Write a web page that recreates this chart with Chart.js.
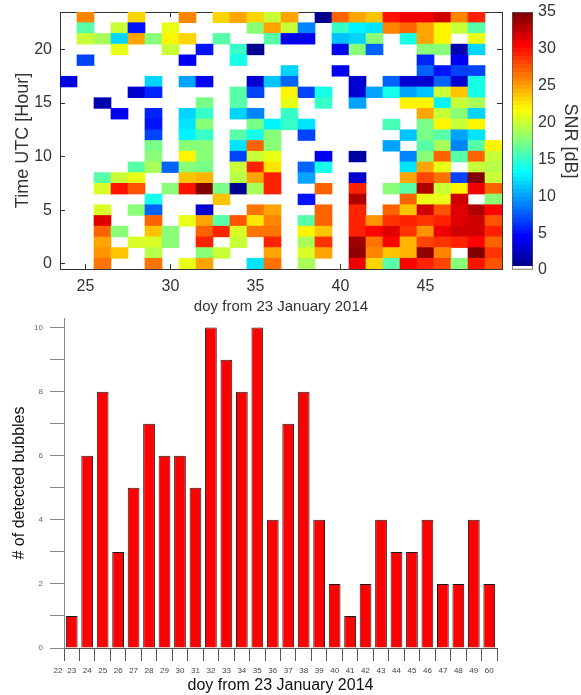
<!DOCTYPE html>
<html>
<head>
<meta charset="utf-8">
<script src="https://cdn.jsdelivr.net/npm/chart.js@4.4.0/dist/chart.umd.min.js"></script>
<style>
  body { margin: 0; background: #fff; }
  #wrap { position: relative; width: 581px; height: 695px; }
  .box { position: absolute; }
</style>
</head>
<body>
<div id="wrap">
  <div class="box" style="left:0;top:0;width:505px;height:316px"><canvas id="heat"></canvas></div>
  <div class="box" style="left:505px;top:0;width:76px;height:316px"><canvas id="cbar"></canvas></div>
  <div class="box" style="left:0;top:310px;width:581px;height:385px"><canvas id="bars"></canvas></div>
</div>
<script>
// top panel: SNR per day / hour
const _ = null;
const days = [24,25,26,27,28,29,30,31,32,33,34,35,36,37,38,39,40,41,42,43,44,45,46,47,48,49];
const dayTicks = [25, 30, 35, 40, 45];
const hourTicks = [0, 5, 10, 15, 20];
const snrTicks = [0, 5, 10, 15, 20, 25, 30, 35];
// one row per hour, from hour 23 down to hour 0, one value per day 24..49
const snrRows = [
  [_,26,_,_,23,_,_,26,_,23,25,23,20,25,_,1,27,25,24,30,31,31,32,26,29,_],
  [_,16,_,20,5,_,21,_,_,_,_,18,25,20,9,_,15,13,12.5,26,27,25,22,20,16,_],
  [_,20,19,12,25,18,22,23,_,16,_,_,16,4,4,_,11,12,18,_,14,25,22,_,21,_],
  [_,_,_,21,_,_,20,_,5,_,15,1,_,_,_,_,4,18,8,_,_,18,18,2,12,_],
  [_,7,_,_,_,_,_,4,_,_,14,_,_,_,_,_,_,_,_,_,_,6,_,4,_,_],
  [_,_,_,_,_,_,_,_,_,_,_,_,_,12,_,_,4,_,_,_,_,8,5,7,7,_],
  [3.5,_,_,_,_,12,_,10,4,_,_,3,11,8,_,_,_,3,_,8,3,3,8,3,14,_],
  [_,_,_,_,3,5.5,_,_,_,_,16,7,_,22,7,14,_,3,10,14,10,11,20,24,14,_],
  [_,_,2,_,_,_,_,_,17,_,16,_,_,21,_,15,_,10,_,_,22,22,13,20,19,_],
  [_,_,_,4,_,5.5,_,12,15,_,12,9,_,15,_,_,_,_,_,_,_,25,20,18,12,_],
  [_,_,_,_,_,5,_,12.5,17.5,_,_,17,13,15,12.5,_,_,_,_,15.5,_,17,22,20,22,_],
  [_,_,_,_,_,7,_,13,15,_,16,14,18,_,7,_,_,_,_,_,11,17,16,10,12.5,_],
  [_,_,_,_,_,17,_,18,18,_,12.5,27,18,_,_,_,_,_,_,10,_,16,19,9,16,22],
  [_,_,_,_,_,17.5,_,22,18,_,7,20,21,_,_,4,_,1.5,_,_,9,18,27,16,27,20],
  [_,_,_,_,16,19,8,18,17,_,20,29,22.5,_,8,14,_,_,_,_,12.5,25,21,_,20,19.5],
  [_,_,16,20,21,_,_,24,24.5,_,19.5,25,29,_,10,_,_,3,_,_,25,28,26.5,7,35,20],
  [_,_,20.5,30,27.5,_,18,30,34.5,17,1,19,29,_,_,27,_,29,_,18,16,33,20,22,31,27],
  [_,_,_,_,_,14,_,_,_,24,_,_,_,_,5,_,_,33,_,_,27,21,21,32,_,18],
  [_,_,20.5,_,18,8,_,_,3,_,_,26.5,25,_,_,27,_,29.5,_,27,24,32,27.5,31.5,33,30.5],
  [_,_,31.5,_,_,27,_,21,25,16,27.5,22.5,26,_,16,27,_,29.5,25.5,28.5,29,28.5,29.5,31.5,32,27.5],
  [_,_,27,18,_,24,18,_,27,29,20.5,26.5,26.5,_,22,24,_,29.5,30.5,31.5,28.5,25.5,31,32,32,29],
  [_,_,25,_,20.5,20.5,18,_,29,_,20,_,29,_,19,28.5,_,33.5,26.5,30.5,24.5,28,28.5,29,30.5,27],
  [_,_,25.5,24,_,19.5,_,_,17.5,20,_,_,25,_,20.5,25,_,34,26,24,24.5,34,26,_,35,28.5],
  [_,_,26.5,_,_,26.5,_,21,25,_,_,12.5,26.5,_,19,_,_,31,23.5,16,30.5,29,28,18,30,27.5]
];

// bottom panel: bubbles per day
const xTickLabels = ['22','23','24','25','26','27','28','29','30','31','32','33','34','35','36','37','38','39','40','41','42','43','44','45','46','47','48','49','60'];
const bubbleCounts = [1,6,8,3,5,7,6,6,5,10,9,8,10,4,7,8,4,2,1,2,4,3,3,4,2,2,4,2];
const countTicks = [0,1,2,3,4,5,6,7,8,9,10];

Chart.defaults.font.family = "'Liberation Sans', Arial, sans-serif";
const fg = '#333';

// matlab-ish jet, 64 levels, lowest level white
function jet(v) {
  const k = Math.min(63, Math.floor(v / 35 * 64));
  if (k <= 0) return '#ffffff';
  const t = k / 63;
  const f = c => Math.round(255 * Math.max(0, Math.min(1, 1.5 - Math.abs(4 * t - c))));
  return 'rgb(' + f(3) + ',' + f(2) + ',' + f(1) + ')';
}

const cells = [];
snrRows.forEach((row, i) => {
  const h = 23 - i;
  row.forEach((v, j) => {
    if (v !== null) cells.push({ x: days[j], y: [h - 0.5, h + 0.5], v: v });
  });
});

// fixed axis sizes, and no extra room for half tick labels
function fixWidth(w) {
  return s => { s.width = w; s.paddingTop = 0; s.paddingBottom = 0; };
}
function fixHeight(h) {
  return s => { s.height = h; s.paddingLeft = 0; s.paddingRight = 0; };
}

const frameGrid = { drawOnChartArea: false, tickLength: -5, color: fg, offset: false };
const frameBorder = { color: fg, width: 1 };

new Chart(document.getElementById('heat'), {
  type: 'bar',
  data: {
    datasets: [{
      data: cells,
      backgroundColor: c => c.raw ? jet(c.raw.v) : '#fff',
      borderWidth: 0,
      barPercentage: 1,
      categoryPercentage: 1
    }]
  },
  options: {
    responsive: true,
    maintainAspectRatio: false,
    animation: false,
    plugins: { legend: { display: false }, tooltip: { enabled: false } },
    scales: {
      x: {
        type: 'linear', position: 'bottom', min: 23.5, max: 49.5, offset: false,
        afterBuildTicks: s => { s.ticks = dayTicks.map(v => ({ value: v })); },
        afterFit: fixHeight(47),
        grid: frameGrid, border: frameBorder,
        ticks: { color: fg, font: { size: 16 }, padding: 13 },
        title: { display: true, text: 'doy from 23 January 2014', color: fg, font: { size: 15 }, padding: { top: 0, bottom: 0 } }
      },
      x2: {
        type: 'linear', position: 'top', min: 23.5, max: 49.5, offset: false,
        afterBuildTicks: s => { s.ticks = dayTicks.map(v => ({ value: v })); },
        afterFit: fixHeight(12),
        grid: frameGrid, border: frameBorder,
        ticks: { display: false }
      },
      y: {
        type: 'linear', position: 'left', min: -0.5, max: 23.5,
        afterBuildTicks: s => { s.ticks = hourTicks.map(v => ({ value: v })); },
        afterFit: fixWidth(60),
        grid: frameGrid, border: frameBorder,
        ticks: { color: fg, font: { size: 16 }, padding: 13 },
        title: { display: true, text: 'Time UTC [Hour]', color: fg, font: { size: 18 }, padding: { top: 12, bottom: 0 } }
      },
      y2: {
        type: 'linear', position: 'right', min: -0.5, max: 23.5,
        afterBuildTicks: s => { s.ticks = hourTicks.map(v => ({ value: v })); },
        afterFit: fixWidth(3),
        grid: frameGrid, border: frameBorder,
        ticks: { display: false }
      }
    }
  }
});

// colour bar
function cbarFill(c) {
  const area = c.chart.chartArea;
  if (!area) return null;
  const g = c.chart.ctx.createLinearGradient(0, area.bottom, 0, area.top);
  for (let k = 0; k < 64; k++) {
    const col = jet((k + 0.5) * 35 / 64);
    g.addColorStop(k / 64, col);
    g.addColorStop((k + 1) / 64, col);
  }
  return g;
}

new Chart(document.getElementById('cbar'), {
  type: 'bar',
  data: {
    labels: ['SNR'],
    datasets: [{
      data: [[0, 35]],
      backgroundColor: cbarFill,
      borderColor: '#555',
      borderWidth: 1,
      borderSkipped: false,
      barPercentage: 1,
      categoryPercentage: 1
    }]
  },
  options: {
    responsive: true,
    maintainAspectRatio: false,
    animation: false,
    layout: { padding: { left: 7, top: 12, bottom: 46 } },
    plugins: { legend: { display: false }, tooltip: { enabled: false } },
    scales: {
      x: { display: false },
      y: {
        position: 'right', min: 0, max: 35,
        afterBuildTicks: s => { s.ticks = snrTicks.map(v => ({ value: v })); },
        afterFit: fixWidth(48),
        grid: { drawOnChartArea: false, drawTicks: false },
        border: { display: false },
        ticks: { color: fg, font: { size: 16 }, padding: 5 },
        title: { display: true, text: 'SNR [dB]', color: fg, font: { size: 18 }, padding: 0 }
      }
    }
  }
});

// bottom bar chart, first tick label sits at the left edge of the axis
const edgeLabel = {
  id: 'edgeLabel',
  afterDraw(chart) {
    const s = chart.scales.x;
    const c = chart.ctx;
    c.save();
    c.font = "8px 'Liberation Sans', Arial, sans-serif";
    c.fillStyle = '#444';
    c.textAlign = 'center';
    c.textBaseline = 'middle';
    c.fillText(xTickLabels[0], s.left - 6, s.top + 13 + 5 + 4.8);
    c.restore();
  }
};

new Chart(document.getElementById('bars'), {
  type: 'bar',
  data: {
    labels: xTickLabels.slice(1),
    datasets: [{
      data: bubbleCounts,
      backgroundColor: '#ff0000',
      borderColor: '#1a1a1a',
      borderWidth: 1,
      barPercentage: 0.76,
      categoryPercentage: 1
    }]
  },
  options: {
    responsive: true,
    maintainAspectRatio: false,
    animation: false,
    layout: { padding: { top: 8, right: 84 } },
    plugins: { legend: { display: false }, tooltip: { enabled: false } },
    scales: {
      x: {
        afterFit: fixHeight(47),
        grid: { offset: true, drawOnChartArea: false, tickLength: 13, color: '#555' },
        border: { color: '#555' },
        ticks: { color: '#444', font: { size: 8 }, padding: 5, maxRotation: 0, autoSkip: false },
        title: { display: true, text: 'doy from 23 January 2014', color: '#111', font: { size: 16 }, padding: 0 }
      },
      y: {
        min: 0, max: 10.3,
        afterBuildTicks: s => { s.ticks = countTicks.map(v => ({ value: v })); },
        afterFit: fixWidth(64),
        grid: { drawOnChartArea: false, tickLength: 14, color: '#888' },
        border: { color: '#888' },
        ticks: { color: '#666', font: { size: 8 }, padding: 7, callback: v => v % 2 === 0 ? v : '' },
        title: { display: true, text: '# of detected bubbles', color: '#111', font: { size: 16 }, padding: { top: 10, bottom: 0 } }
      }
    }
  },
  plugins: [edgeLabel]
});
</script>
</body>
</html>
